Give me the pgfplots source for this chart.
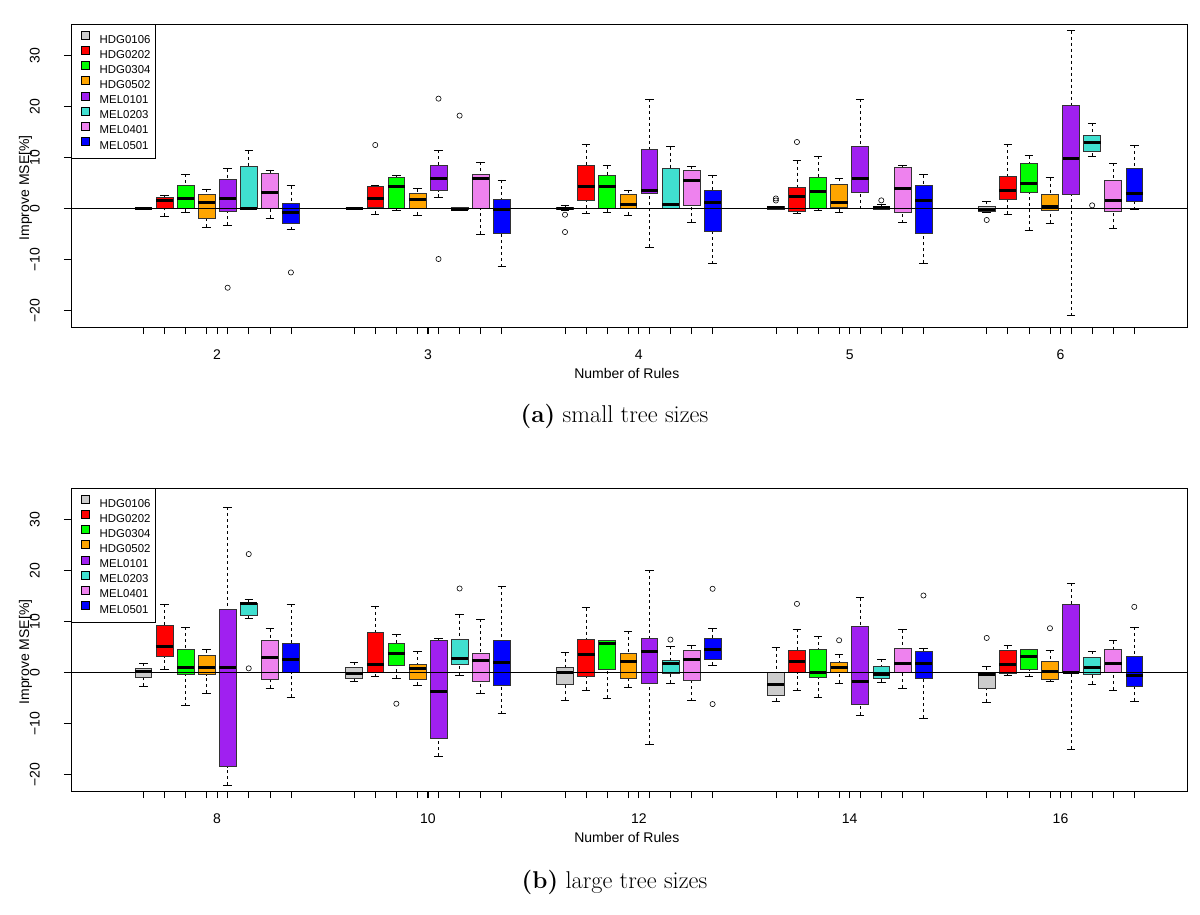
\documentclass[border=0pt]{standalone}
\usepackage{fontspec}
\newfontfamily\helv{Liberation Sans}
\usepackage{pgfplots}
\pgfplotsset{compat=1.18}
\usepgfplotslibrary{statistics}
\definecolor{cGray}{HTML}{CCCCCC}
\definecolor{cRed}{HTML}{FF0000}
\definecolor{cGreen}{HTML}{00FF00}
\definecolor{cOrange}{HTML}{FFA500}
\definecolor{cPurple}{HTML}{A020F0}
\definecolor{cTurq}{HTML}{40E0D0}
\definecolor{cViolet}{HTML}{EE82EE}
\definecolor{cBlue}{HTML}{0000FF}
\pgfplotsset{
  legend image code/.code={\path (0pt,0pt); \draw[#1,draw=black,line width=0.5pt] (4.7pt,0pt) rectangle (12.7pt,8pt);},
  boxplot/draw/lower whisker/.code={
    \draw[black, line width=0.6pt, dash pattern=on 3pt off 3pt]
      (boxplot box cs:\pgfplotsboxplotvalue{lower whisker},0.5) --
      (boxplot box cs:\pgfplotsboxplotvalue{lower quartile},0.5);
    \draw[black, line width=0.6pt]
      (boxplot whisker cs:\pgfplotsboxplotvalue{lower whisker},0) --
      (boxplot whisker cs:\pgfplotsboxplotvalue{lower whisker},1);
  },
  boxplot/draw/upper whisker/.code={
    \draw[black, line width=0.6pt, dash pattern=on 3pt off 3pt]
      (boxplot box cs:\pgfplotsboxplotvalue{upper whisker},0.5) --
      (boxplot box cs:\pgfplotsboxplotvalue{upper quartile},0.5);
    \draw[black, line width=0.6pt]
      (boxplot whisker cs:\pgfplotsboxplotvalue{upper whisker},0) --
      (boxplot whisker cs:\pgfplotsboxplotvalue{upper whisker},1);
  },
  panel/.style={
    scale only axis, width=1116pt, height=303pt,
    xmin=-2.43, xmax=50.5, ymin=-23.2, ymax=36.2,
    axis line style={line width=0.9pt},
    tick pos=left, tick align=outside,
    major tick length=7pt, minor tick length=7pt,
    major tick style={black, line width=1.1pt},
    minor tick style={black, line width=0.6pt},
    xtick={4.5,14.5,24.5,34.5,44.5},
    minor xtick={1,2,3,4,5,6,7,8,11,12,13,14,15,16,17,18,21,22,23,24,25,26,27,28,31,32,33,34,35,36,37,38,41,42,43,44,45,46,47,48},
    ytick={-20,-10,0,10,20,30},
    yticklabels={−20,−10,0,10,20,30},
    ticklabel style={font=\helv\fontsize{14}{16}\selectfont, inner sep=0pt},
    xticklabel style={anchor=base},
    xticklabel shift=25pt,
    yticklabel style={rotate=90, anchor=south},
    yticklabel shift=24pt,
    xlabel={Number of Rules},
    ylabel={Improve MSE[\%]},
    label style={font=\helv\fontsize{14}{16}\selectfont, inner sep=0pt},
    xlabel style={at={(axis description cs:0.498,0)}, anchor=base, yshift=-51pt},
    ylabel style={at={(axis description cs:-0.0376,0.459)}, anchor=base},
    boxplot/draw direction=y,
    boxplot/box extend=0.8,
    boxplot/whisker extend=0.4,
    boxplot/every median/.style={black, solid, line width=3pt},
    legend cell align=left,
    legend style={at={(rel axis cs:0,1)}, anchor=north west, draw=black, line width=0.8pt,
      inner xsep=5pt, inner ysep=6.8pt, row sep=0pt, column sep=10pt,
      font=\helv\fontsize{11.4}{13.67}\selectfont,
      nodes={inner sep=0pt, text height=10.8pt, text depth=2.87pt}},
  },
}
% pos, colour, lower whisker, lower quartile, median, upper quartile, upper whisker, outliers
\newcommand\bx[8]{\addplot[forget plot, mark=o, mark size=2.6pt, mark options={solid, black, line width=0.6pt},
  boxplot prepared={draw position=#1, lower whisker=#3, lower quartile=#4, median=#5, upper quartile=#6, upper whisker=#7},
  boxplot/every box/.style={fill=#2, draw=black!80, line width=0.6pt}] coordinates {#8};}
\newcommand\legendentries{%
  \addlegendimage{fill=cGray}\addlegendentry{HDG0106}
  \addlegendimage{fill=cRed}\addlegendentry{HDG0202}
  \addlegendimage{fill=cGreen}\addlegendentry{HDG0304}
  \addlegendimage{fill=cOrange}\addlegendentry{HDG0502}
  \addlegendimage{fill=cPurple}\addlegendentry{MEL0101}
  \addlegendimage{fill=cTurq}\addlegendentry{MEL0203}
  \addlegendimage{fill=cViolet}\addlegendentry{MEL0401}
  \addlegendimage{fill=cBlue}\addlegendentry{MEL0501}}
\begin{document}
\begin{tikzpicture}
\path[use as bounding box] (-71pt,24pt) rectangle (1129pt,-890pt);
\begin{axis}[panel, at={(0pt,0pt)}, anchor=north west, xticklabels={2,3,4,5,6}]
\legendentries
% 2 rules
\bx{1}{cGray}{0}{0}{0}{0}{0}{}
\bx{2}{cRed}{-1.5}{0.07}{1.63}{2.22}{2.68}{}
\bx{3}{cGreen}{-0.72}{0.07}{1.9}{4.58}{6.73}{}
\bx{4}{cOrange}{-3.6}{-1.96}{1.18}{2.81}{3.86}{}
\bx{5}{cPurple}{-3.27}{-0.59}{2.03}{5.75}{7.84}{(0,-15.5)}
\bx{6}{cTurq}{0}{0}{0}{8.24}{11.37}{}
\bx{7}{cViolet}{-1.83}{0}{3.2}{6.93}{7.58}{}
\bx{8}{cBlue}{-4.12}{-2.88}{-0.72}{1.11}{4.5}{(0,-12.5)}
% 3 rules
\bx{11}{cGray}{0}{0}{0}{0}{0}{}
\bx{12}{cRed}{-1.05}{0.2}{2.03}{4.44}{4.5}{(0,12.48)}
\bx{13}{cGreen}{-0.33}{0}{4.31}{6.14}{6.54}{}
\bx{14}{cOrange}{-1.24}{0.13}{1.76}{2.94}{3.92}{}
\bx{15}{cPurple}{2.22}{3.53}{5.82}{8.5}{11.44}{(0,21.57) (0,-9.87)}
\bx{16}{cTurq}{-0.3}{-0.2}{-0.1}{0.2}{0.3}{(0,18.24)}
\bx{17}{cViolet}{-4.97}{0.13}{5.88}{6.67}{9.15}{}
\bx{18}{cBlue}{-11.37}{-4.84}{-0.13}{1.83}{5.62}{}
% 4 rules
\bx{21}{cGray}{-0.3}{-0.2}{0.07}{0.33}{0.72}{(0,-1.18) (0,-4.58)}
\bx{22}{cRed}{-0.98}{1.7}{4.31}{8.56}{12.68}{}
\bx{23}{cGreen}{-0.72}{0}{4.31}{6.47}{8.43}{}
\bx{24}{cOrange}{-1.24}{0.07}{0.85}{2.81}{3.66}{}
\bx{25}{cPurple}{-7.58}{3.0}{3.59}{11.63}{21.5}{}
\bx{26}{cTurq}{0}{0.07}{0.72}{7.97}{12.16}{}
\bx{27}{cViolet}{-2.68}{0.65}{5.49}{7.52}{8.3}{}
\bx{28}{cBlue}{-10.78}{-4.51}{1.18}{3.59}{6.6}{}
% 5 rules
\bx{31}{cGray}{-0.1}{-0.07}{0.2}{0.46}{0.5}{(0,1.6) (0,2.0)}
\bx{32}{cRed}{-0.98}{-0.46}{2.35}{4.12}{9.41}{(0,13.07)}
\bx{33}{cGreen}{-0.3}{0}{3.46}{6.14}{10.33}{}
\bx{34}{cOrange}{-0.65}{0.26}{1.24}{4.77}{5.95}{}
\bx{35}{cPurple}{0}{3.2}{5.88}{12.22}{21.5}{}
\bx{36}{cTurq}{-0.2}{-0.2}{0.2}{0.46}{0.9}{(0,1.63)}
\bx{37}{cViolet}{-2.75}{-0.78}{3.99}{8.04}{8.43}{}
\bx{38}{cBlue}{-10.72}{-4.84}{1.57}{4.58}{6.67}{}
% 6 rules
\bx{41}{cGray}{-0.7}{-0.59}{-0.07}{0.39}{1.44}{(0,-2.22)}
\bx{42}{cRed}{-1.11}{1.9}{3.53}{6.27}{12.61}{}
\bx{43}{cGreen}{-4.25}{3.14}{4.97}{8.82}{10.39}{}
\bx{44}{cOrange}{-2.88}{-0.26}{0.39}{2.81}{6.08}{}
\bx{45}{cPurple}{-20.98}{2.75}{9.87}{20.33}{34.9}{}
\bx{46}{cTurq}{10.26}{11.31}{12.94}{14.38}{16.8}{(0,0.65)}
\bx{47}{cViolet}{-3.86}{-0.59}{1.63}{5.56}{8.95}{}
\bx{48}{cBlue}{-0.2}{1.44}{2.94}{7.97}{12.48}{}
\addplot[forget plot, black, line width=0.9pt, mark=none] coordinates {(-2.43,0) (50.5,0)};
\end{axis}
\node[font=\fontsize{24.3}{29}\selectfont, anchor=base] at (543.5pt,-398.7pt) {\textbf{(a)} small tree sizes};
\begin{axis}[panel, at={(0pt,-464pt)}, anchor=north west, xticklabels={8,10,12,14,16}]
\legendentries
% 8 rules
\bx{1}{cGray}{-2.62}{-0.92}{0.2}{0.85}{1.83}{}
\bx{2}{cRed}{0.72}{3.14}{5.11}{9.23}{13.43}{}
\bx{3}{cGreen}{-6.48}{-0.39}{0.98}{4.58}{8.91}{}
\bx{4}{cOrange}{-3.99}{-0.39}{1.11}{3.41}{4.52}{}
\bx{5}{cPurple}{-22.07}{-18.4}{1.11}{12.44}{32.4}{}
\bx{6}{cTurq}{10.67}{11.26}{13.55}{13.62}{14.41}{(0,23.25) (0,0.85)}
\bx{7}{cViolet}{-3.08}{-1.31}{2.95}{6.42}{8.64}{}
\bx{8}{cBlue}{-4.85}{0}{2.49}{5.83}{13.43}{}
% 10 rules
\bx{11}{cGray}{-1.64}{-1.05}{-0.13}{1.11}{2.03}{}
\bx{12}{cRed}{-0.79}{0}{1.51}{7.86}{13.1}{}
\bx{13}{cGreen}{-1.11}{1.44}{3.73}{5.76}{7.6}{(0,-6.09)}
\bx{14}{cOrange}{-2.49}{-1.31}{0.72}{1.7}{4.19}{}
\bx{15}{cPurple}{-16.37}{-12.9}{-3.73}{6.35}{6.68}{}
\bx{16}{cTurq}{-0.46}{1.57}{2.82}{6.48}{11.4}{(0,16.5)}
\bx{17}{cViolet}{-4.06}{-1.64}{2.36}{3.8}{10.48}{}
\bx{18}{cBlue}{-8.06}{-2.55}{1.96}{6.35}{16.96}{}
% 12 rules
\bx{21}{cGray}{-5.44}{-2.29}{0.07}{1.05}{3.93}{}
\bx{22}{cRed}{-3.41}{-0.72}{3.47}{6.55}{12.77}{}
\bx{23}{cGreen}{-5.04}{0.59}{5.76}{6.29}{6.29}{}
\bx{24}{cOrange}{-2.82}{-1.05}{2.1}{3.86}{8.19}{}
\bx{25}{cPurple}{-14.08}{-2.1}{4.19}{6.75}{20.04}{}
\bx{26}{cTurq}{-2.1}{-0.13}{1.77}{2.36}{5.24}{(0,6.48)}
\bx{27}{cViolet}{-5.5}{-1.44}{2.49}{4.39}{5.3}{}
\bx{28}{cBlue}{1.51}{2.55}{4.58}{6.75}{8.64}{(0,16.44) (0,-6.16)}
% 14 rules
\bx{31}{cGray}{-5.57}{-4.52}{-2.23}{0}{4.91}{}
\bx{32}{cRed}{-3.54}{0}{2.16}{4.45}{8.58}{(0,13.49)}
\bx{33}{cGreen}{-4.85}{-0.98}{0.07}{4.52}{7.14}{}
\bx{34}{cOrange}{-2.03}{0}{1.05}{1.96}{3.54}{(0,6.35)}
\bx{35}{cPurple}{-8.32}{-6.16}{-1.7}{9.04}{14.73}{}
\bx{36}{cTurq}{-1.83}{-1.18}{-0.39}{1.24}{2.68}{}
\bx{37}{cViolet}{-3.01}{0}{1.77}{4.78}{8.45}{}
\bx{38}{cBlue}{-8.91}{-1.18}{1.83}{4.19}{4.72}{(0,15.13)}
% 16 rules
\bx{41}{cGray}{-5.83}{-3.14}{-0.33}{0}{1.18}{(0,6.81)}
\bx{42}{cRed}{-0.52}{-0.13}{1.57}{4.32}{5.3}{}
\bx{43}{cGreen}{-0.79}{0.59}{3.14}{4.52}{4.65}{}
\bx{44}{cOrange}{-1.7}{-1.31}{0.2}{2.16}{4.39}{(0,8.71)}
\bx{45}{cPurple}{-15.0}{0}{0}{13.36}{17.49}{}
\bx{46}{cTurq}{-2.23}{-0.33}{1.11}{3.01}{4.19}{}
\bx{47}{cViolet}{-3.41}{0}{1.77}{4.65}{6.29}{}
\bx{48}{cBlue}{-5.63}{-2.69}{-0.46}{3.14}{8.97}{(0,12.9)}
\addplot[forget plot, black, line width=0.9pt, mark=none] coordinates {(-2.43,0) (50.5,0)};
\end{axis}
\node[font=\fontsize{24.3}{29}\selectfont, anchor=base] at (543.5pt,-864pt) {\textbf{(b)} large tree sizes};
\end{tikzpicture}
\end{document}
